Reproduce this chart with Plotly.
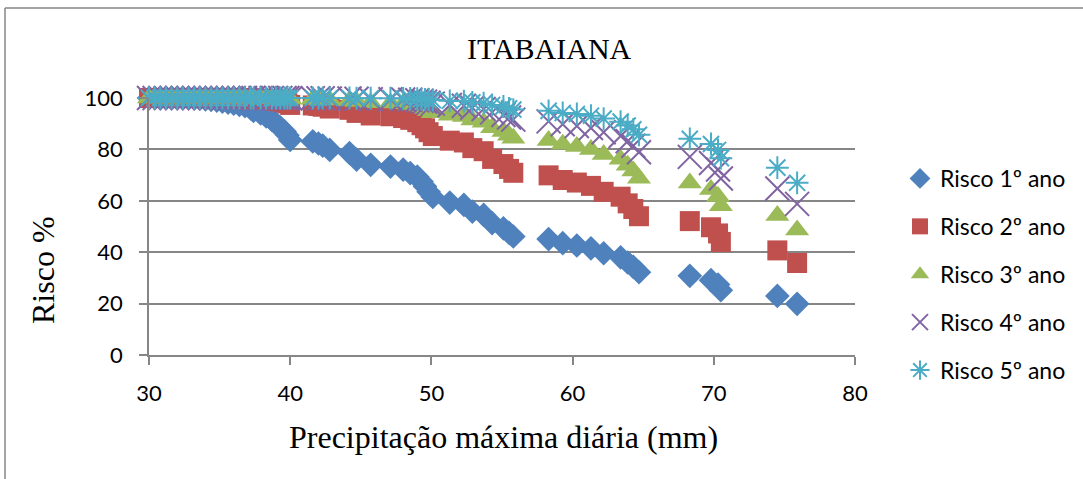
import plotly.graph_objects as go

# Precipitação máxima diária (mm)
precip = [30.0, 30.4, 30.8, 31.2, 31.6, 32.0, 32.4, 32.8, 33.2, 33.6, 34.0, 34.4, 34.8, 35.2,
          35.6, 36.0, 36.4, 36.8, 37.2, 37.4, 37.9, 38.3, 38.7, 39.0, 39.3, 39.6, 39.8, 40.0,
          41.6, 42.0, 42.3, 42.8, 44.2, 44.7, 45.7, 47.1, 48.0, 48.5, 49.0, 49.3, 49.55, 49.8,
          50.1, 51.3, 52.3, 52.9, 53.7, 54.3, 55.1, 55.5, 55.8,
          58.3, 59.3, 60.3, 61.3, 62.2, 63.4, 63.9, 64.3, 64.7,
          68.3, 69.8, 70.3, 70.5,
          74.5, 75.9]

risco_1 = [100, 100, 100, 100, 100, 100, 99.9, 99.9, 99.8, 99.7, 99.5, 99.3, 99.0, 98.6,
           98.2, 97.8, 97.3, 96.8, 96.0, 95.0, 94.0, 92.8, 91.5, 90.0, 88.5, 87.0, 85.5, 83.7,
           83.1, 82.3, 81.5, 79.8, 78.6, 76.0, 74.0, 73.3, 72.1, 70.8, 69.4, 67.5, 65.6, 63.5,
           61.5, 59.3, 58.4, 55.8, 54.5, 51.3, 49.3, 47.5, 46.1,
           45.1, 43.5, 42.6, 41.5, 39.6, 38.0, 36.0, 34.3, 32.2,
           30.8, 29.1, 27.4, 25.2,
           23.0, 19.9]

risco_2 = [100, 100, 100, 100, 100, 100, 100, 100, 100, 100, 100, 100, 100, 100,
           100, 100, 99.9, 99.9, 99.8, 99.8, 99.6, 99.5, 99.3, 99.0, 98.7, 98.3, 97.9, 97.3,
           97.1, 96.9, 96.6, 95.9, 95.4, 94.2, 93.2, 92.9, 92.2, 91.5, 90.6, 89.4, 88.2, 86.7,
           85.2, 83.4, 82.7, 80.5, 79.3, 76.3, 74.3, 72.4, 70.9,
           69.9, 68.1, 67.1, 65.8, 63.5, 61.6, 59.0, 56.8, 54.0,
           52.1, 49.7, 47.3, 44.0,
           40.7, 35.8]

risco_3 = [100, 100, 100, 100, 100, 100, 100, 100, 100, 100, 100, 100, 100, 100,
           100, 100, 100, 100, 100, 100, 100, 100, 99.9, 99.9, 99.8, 99.8, 99.7, 99.6,
           99.5, 99.4, 99.4, 99.2, 99.0, 98.6, 98.2, 98.1, 97.8, 97.5, 97.1, 96.6, 95.9, 95.1,
           94.3, 93.3, 92.8, 91.4, 90.6, 88.4, 87.0, 85.5, 84.3,
           83.5, 82.0, 81.1, 80.0, 78.0, 76.2, 73.8, 71.6, 68.8,
           66.9, 64.4, 61.7, 58.1,
           54.3, 48.6]

risco_4 = [100, 100, 100, 100, 100, 100, 100, 100, 100, 100, 100, 100, 100, 100,
           100, 100, 100, 100, 100, 100, 100, 100, 100, 100, 100, 100, 100, 99.9,
           99.9, 99.9, 99.9, 99.8, 99.8, 99.7, 99.5, 99.5, 99.4, 99.3, 99.1, 98.9, 98.6, 98.2,
           97.8, 97.3, 97.0, 96.2, 95.7, 94.4, 93.4, 92.4, 91.6,
           90.9, 89.8, 89.1, 88.3, 86.7, 85.2, 83.2, 81.4, 78.9,
           77.1, 74.7, 72.2, 68.7,
           64.8, 58.8]

risco_5 = [100, 100, 100, 100, 100, 100, 100, 100, 100, 100, 100, 100, 100, 100,
           100, 100, 100, 100, 100, 100, 100, 100, 100, 100, 100, 100, 100, 100,
           100, 100, 100, 100, 100, 99.9, 99.9, 99.9, 99.8, 99.8, 99.7, 99.6, 99.5, 99.4,
           99.2, 98.9, 98.8, 98.3, 98.0, 97.3, 96.7, 96.0, 95.5,
           95.0, 94.2, 93.8, 93.1, 92.0, 90.8, 89.3, 87.8, 85.7,
           84.1, 82.1, 79.8, 76.6,
           72.9, 67.0]

series_names = ["Risco 1º ano", "Risco 2º ano", "Risco 3º ano", "Risco 4º ano", "Risco 5º ano"]
x_ticks = [30, 40, 50, 60, 70, 80]
y_ticks = [0, 20, 40, 60, 80, 100]

colors = ["#4F81BD", "#C0504D", "#9BBB59", "#8064A2", "#4BACC6"]
symbols = ["diamond", "square", "triangle-up", "x-thin-open", "asterisk-open"]
sizes = [19, 20, 21, 24, 19]

fig = go.Figure()
for i, (name, vals) in enumerate(zip(series_names, [risco_1, risco_2, risco_3, risco_4, risco_5])):
    open_sym = symbols[i].endswith("open")
    fig.add_trace(go.Scatter(
        x=precip, y=vals, name=name, mode="markers", cliponaxis=False,
        legendgroup=f"g{i}",
        marker=dict(symbol=symbols[i], size=sizes[i], color=colors[i],
                    line=dict(color=colors[i], width=2 if open_sym else 0)),
    ))

L, R, T, B = 149, 228, 98, 124
W, H = 1083, 479
pw, ph = W - L - R, H - T - B

def px(xp):
    return (xp - L) / pw

def py(yp):
    return (H - B - yp) / ph

serif = "Liberation Serif"
sans = "Lato"

fig.update_layout(
    width=W, height=H,
    margin=dict(l=L, r=R, t=T, b=B),
    paper_bgcolor="white", plot_bgcolor="white",
    showlegend=True,
    legend=dict(x=px(900), y=py(157), xanchor="left", yanchor="top",
                font=dict(family=sans, size=23, color="black"),
                tracegroupgap=15, itemwidth=30, bgcolor="rgba(0,0,0,0)"),
    xaxis=dict(range=[30, 80], tickvals=x_ticks, ticktext=[str(v) for v in x_ticks],
               showgrid=False, zeroline=False, showline=True, linecolor="#868686", linewidth=1.5,
               ticks="outside", ticklen=8, tickcolor="#868686", tickwidth=1.5,
               tickfont=dict(family=sans, size=22, color="black"), ticklabelstandoff=10),
    yaxis=dict(range=[0, 100], tickvals=y_ticks, ticktext=[str(v) for v in y_ticks],
               showgrid=True, gridcolor="#868686", gridwidth=1.5, zeroline=False,
               showline=True, linecolor="#868686", linewidth=1.5,
               ticks="outside", ticklen=8, tickcolor="#868686", tickwidth=1.5,
               tickfont=dict(family=sans, size=22, color="black"), ticklabelstandoff=12),
    annotations=[
        dict(text="ITABAIANA", x=px(549), y=py(48), xref="paper", yref="paper",
             xanchor="center", yanchor="middle",
             showarrow=False, font=dict(family=serif, size=30, color="black")),
        dict(text="Precipitação máxima diária (mm)", x=px(503), y=py(437), xref="paper", yref="paper",
             xanchor="center", yanchor="middle",
             showarrow=False, font=dict(family=serif, size=32, color="black")),
        dict(text="Risco %", x=px(43), y=py(270), xref="paper", yref="paper", textangle=-90,
             xanchor="center", yanchor="middle",
             showarrow=False, font=dict(family=serif, size=32, color="black")),
    ],
    shapes=[
        dict(type="line", xref="paper", yref="paper", x0=px(5), x1=px(1100), y0=py(8), y1=py(8),
             line=dict(color="#868686", width=1.5)),
        dict(type="line", xref="paper", yref="paper", x0=px(5), x1=px(5), y0=py(8), y1=py(500),
             line=dict(color="#868686", width=1.5)),
    ],
)

fig.write_html("out.html")
